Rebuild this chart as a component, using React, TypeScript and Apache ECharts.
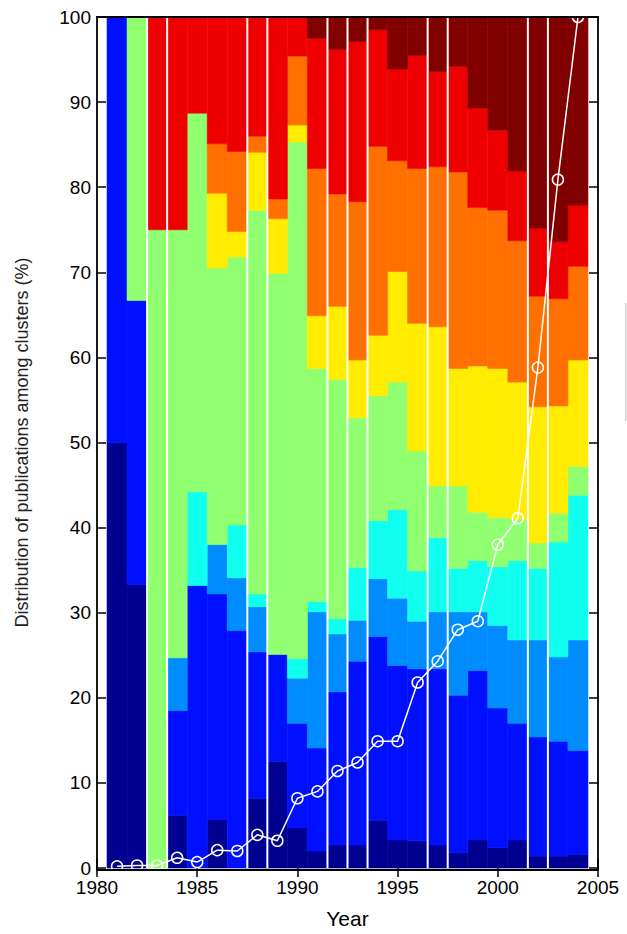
import React, { useEffect, useRef } from "react";
import * as echarts from "echarts";

// ---- data (percent of publications per cluster, bottom to top) ----
const YEARS = [1981, 1982, 1983, 1984, 1985, 1986, 1987, 1988, 1989, 1990, 1991, 1992, 1993, 1994, 1995, 1996, 1997, 1998, 1999, 2000, 2001, 2002, 2003, 2004];

const C1_NAVY = [50, 33.3, 0, 6.2, 0, 5.7, 0, 8.2, 12.5, 4.7, 2.0, 2.7, 2.7, 5.6, 3.3, 3.2, 2.7, 1.8, 3.3, 2.4, 3.3, 1.4, 1.4, 1.6];
const C2_BLUE = [50, 33.4, 0, 12.3, 33.2, 26.5, 27.9, 17.2, 12.6, 12.3, 12.1, 18.0, 21.6, 21.6, 20.5, 20.2, 20.7, 18.5, 19.9, 16.4, 13.7, 14.0, 13.5, 12.2];
const C3_AZURE = [0, 0, 0, 6.2, 0, 5.8, 6.2, 5.3, 0, 5.3, 16.0, 6.8, 4.8, 6.8, 7.9, 5.6, 6.7, 9.8, 6.9, 9.7, 9.8, 11.4, 9.9, 13.0];
const C4_CYAN = [0, 0, 0, 0, 11.0, 0, 6.2, 1.5, 0, 2.3, 1.2, 1.8, 6.2, 6.8, 10.4, 5.9, 8.7, 5.1, 6.0, 6.9, 9.3, 8.4, 13.5, 17.0];
const C5_GREEN = [0, 33.3, 75, 50.3, 44.5, 32.5, 31.5, 45.1, 44.8, 60.7, 27.4, 28.1, 17.6, 14.7, 15.0, 14.1, 6.1, 9.7, 5.7, 5.8, 4.9, 3.0, 3.4, 3.4];
const C6_YELLOW = [0, 0, 0, 0, 0, 8.8, 3.0, 6.8, 6.4, 2.0, 6.2, 8.6, 6.8, 7.1, 13.0, 15.0, 18.7, 13.8, 17.2, 17.5, 16.1, 16.0, 12.6, 12.5];
const C7_ORANGE = [0, 0, 0, 0, 0, 5.8, 9.4, 1.9, 2.3, 8.1, 17.3, 13.2, 18.6, 22.2, 13.0, 18.2, 18.8, 23.1, 18.6, 18.6, 16.6, 13.0, 12.6, 11.0];
const C8_RED = [0, 0, 25, 25, 11.3, 14.9, 15.8, 14.0, 21.4, 4.6, 15.3, 17.0, 18.8, 13.7, 10.8, 13.3, 11.2, 12.4, 11.7, 9.4, 8.2, 8.0, 6.7, 7.2];
const C9_DARKRED = [0, 0, 0, 0, 0, 0, 0, 0, 0, 0, 2.5, 3.8, 2.9, 1.5, 6.1, 4.5, 6.4, 5.8, 10.7, 13.3, 18.1, 24.8, 26.4, 22.1];

const CLUSTERS = [C1_NAVY, C2_BLUE, C3_AZURE, C4_CYAN, C5_GREEN, C6_YELLOW, C7_ORANGE, C8_RED, C9_DARKRED];
const CLUSTER_COLORS = ["#000090", "#0010FF", "#008CFF", "#10FFEF", "#90FF70", "#FFEC00", "#FF7000", "#EE0000", "#800000"];

// publications per year, relative to the maximum (white line)
const PUBLICATIONS = [0.2, 0.3, 0.3, 1.2, 0.7, 2.1, 2.0, 3.9, 3.2, 8.2, 9.0, 11.4, 12.4, 14.9, 14.9, 21.8, 24.3, 28.0, 29.0, 38.0, 41.1, 58.8, 80.9, 100];

// white vertical separators between years
const DIVIDERS = [1982.5, 1983.5, 1987.5, 1988.5, 1991.5, 1992.5, 1993.5, 1996.5, 1997.5, 2001.5, 2002.5];

const X_MIN = 1980, X_MAX = 2005, X_STEP = 5;
const Y_MIN = 0, Y_MAX = 100, Y_STEP = 10;

const FONT = "'Liberation Sans', Arial, Helvetica, sans-serif";

export default function App() {
  const ref = useRef<HTMLDivElement>(null);

  useEffect(() => {
    document.body.style.margin = "0";
    const chart = echarts.init(ref.current as HTMLDivElement, null, { renderer: "svg" });

    const cum = YEARS.map(() => 0);
    const barSeries = CLUSTERS.map((vals, k) => {
      const data: number[][] = [];
      YEARS.forEach((yr, i) => {
        const lo = cum[i];
        cum[i] += vals[i];
        if (vals[i] > 0) data.push([yr, lo, cum[i]]);
      });
      const color = CLUSTER_COLORS[k];
      return {
        type: "custom",
        name: "Cluster " + (k + 1),
        z: 2,
        silent: true,
        encode: { x: 0, y: [1, 2] },
        data,
        renderItem: (_p: any, api: any) => {
          const yr = api.value(0);
          const p0 = api.coord([yr - 0.5, api.value(2)]);
          const p1 = api.coord([yr + 0.5, api.value(1)]);
          return {
            type: "rect",
            shape: { x: p0[0], y: p0[1], width: p1[0] - p0[0], height: p1[1] - p0[1] },
            style: { fill: color, stroke: color, lineWidth: 0.6 },
          };
        },
      };
    });

    const dividerSeries = {
      type: "custom",
      z: 3,
      silent: true,
      encode: { x: 0, y: [1, 2] },
      data: DIVIDERS.map((x) => [x, Y_MIN, Y_MAX]),
      renderItem: (_p: any, api: any) => {
        const a = api.coord([api.value(0), api.value(1)]);
        const b = api.coord([api.value(0), api.value(2)]);
        return {
          type: "line",
          shape: { x1: a[0], y1: a[1], x2: b[0], y2: b[1] },
          style: { stroke: "#ffffff", lineWidth: 2 },
        };
      },
    };

    const lineSeries = {
      type: "line",
      z: 5,
      clip: false,
      silent: true,
      data: YEARS.map((y, i) => [y, PUBLICATIONS[i]]),
      symbol: "circle",
      symbolSize: 11,
      lineStyle: { color: "#ffffff", width: 1.5 },
      itemStyle: { color: "rgba(0,0,0,0)", borderColor: "#ffffff", borderWidth: 1.5 },
    };

    const tickStyle = { show: true, inside: true, length: 9, lineStyle: { color: "#000", width: 1.5 } };
    const labelStyle = { color: "#000", fontSize: 19, fontFamily: FONT };

    chart.setOption({
      animation: false,
      backgroundColor: "#ffffff",
      grid: { left: 97, top: 17, width: 501, height: 853, containLabel: false },
      xAxis: [
        {
          type: "value",
          position: "bottom",
          min: X_MIN,
          max: X_MAX,
          interval: X_STEP,
          axisLine: { show: false },
          axisTick: tickStyle,
          splitLine: { show: false },
          axisLabel: { ...labelStyle, margin: 10, formatter: (v: number) => String(v) },
          name: "Year",
          nameLocation: "middle",
          nameGap: 40,
          nameTextStyle: { color: "#000", fontSize: 21, fontFamily: FONT },
        },
        {
          type: "value",
          position: "top",
          min: X_MIN,
          max: X_MAX,
          interval: X_STEP,
          axisLine: { show: false },
          axisTick: tickStyle,
          splitLine: { show: false },
          axisLabel: { show: false },
        },
      ],
      yAxis: [
        {
          type: "value",
          position: "left",
          min: Y_MIN,
          max: Y_MAX,
          interval: Y_STEP,
          axisLine: { show: false },
          axisTick: tickStyle,
          splitLine: { show: false },
          axisLabel: { ...labelStyle, margin: 6 },
          name: "Distribution of publications among clusters (%)",
          nameLocation: "middle",
          nameRotate: 90,
          nameGap: 66,
          nameTextStyle: { color: "#222", fontSize: 18, fontFamily: FONT },
        },
        {
          type: "value",
          position: "right",
          min: Y_MIN,
          max: Y_MAX,
          interval: Y_STEP,
          axisLine: { show: false },
          axisTick: tickStyle,
          splitLine: { show: false },
          axisLabel: { show: false },
        },
      ],
      graphic: [
        {
          type: "rect",
          z: 100,
          silent: true,
          shape: { x: 97, y: 17, width: 501, height: 853 },
          style: { fill: "none", stroke: "#000", lineWidth: 1.8 },
        },
        {
          type: "rect",
          z: 100,
          silent: true,
          shape: { x: 625, y: 303, width: 1.5, height: 118 },
          style: { fill: "#d0d0d0" },
        },
      ],
      series: [...barSeries, dividerSeries, lineSeries],
    });

    return () => chart.dispose();
  }, []);

  return <div ref={ref} style={{ width: 627, height: 934 }} />;
}
